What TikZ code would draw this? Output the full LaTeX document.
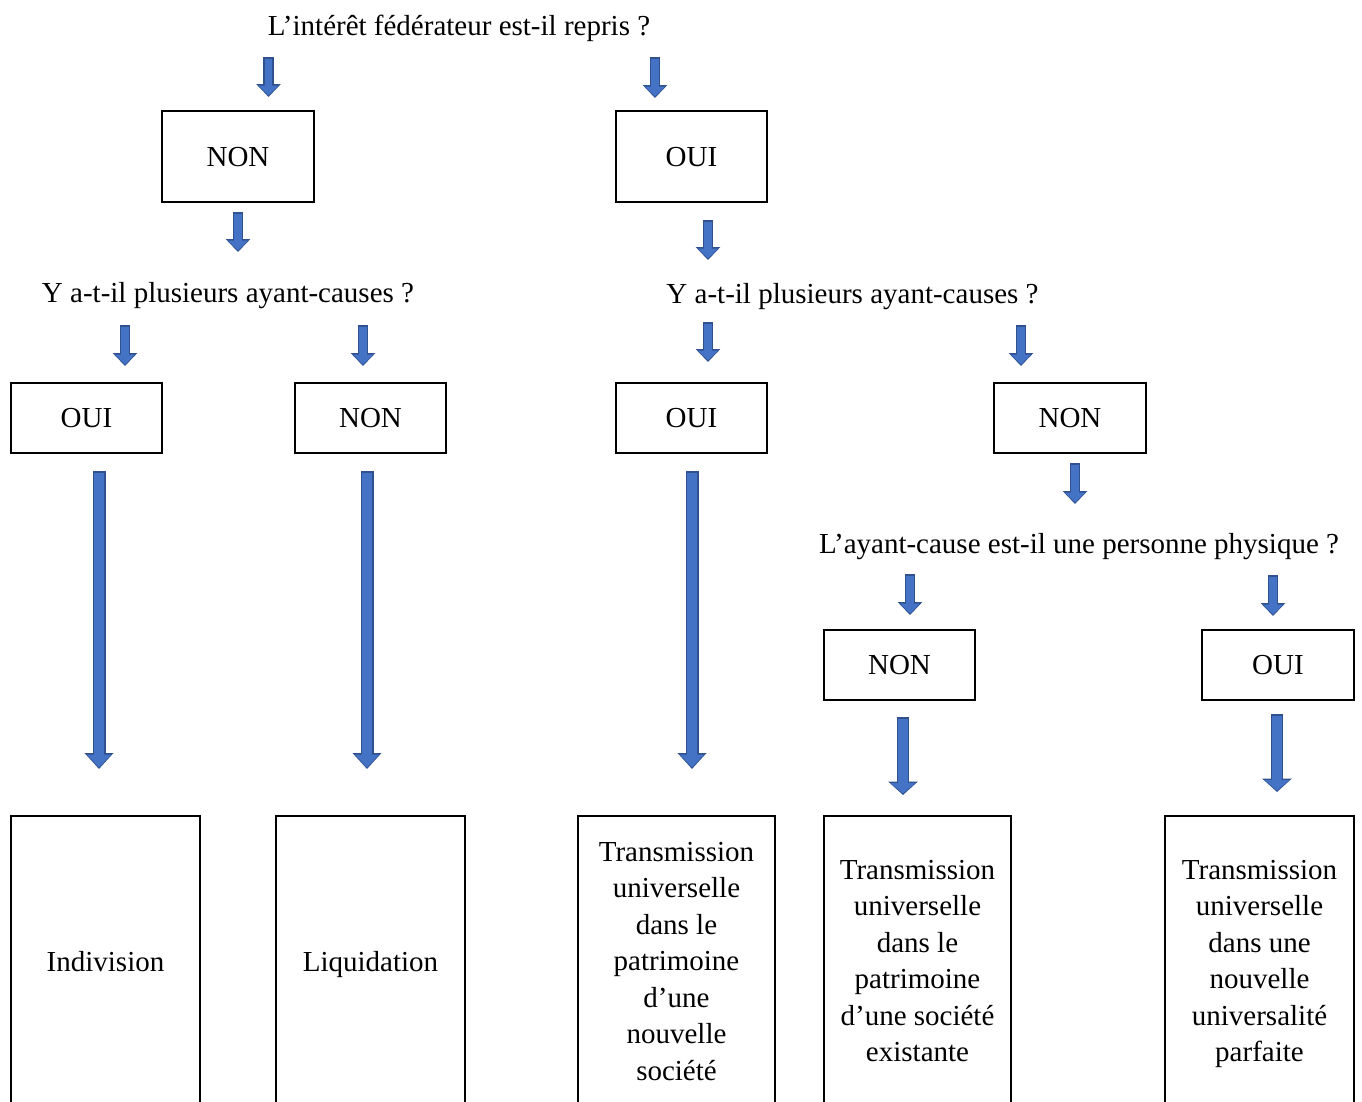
\documentclass[tikz,border=0pt]{standalone}
\usepackage{fontspec}
\setmainfont{Liberation Serif}
\usetikzlibrary{arrows.meta}
\definecolor{bleu}{HTML}{4472C4}
\definecolor{bleufonce}{HTML}{2F528F}
\tikzset{
	boite/.style={draw, line width=1.5pt, align=center, inner sep=0pt, text depth=0pt},
	question/.style={anchor=base, inner sep=0pt},
}
\begin{document}
\begin{tikzpicture}[x=1pt, y=-1pt, font=\fontsize{29}{36.5}\selectfont]
	\useasboundingbox (0,0) rectangle (1362,1101);
	\clip (0,0) rectangle (1362,1101);
	
	% questions
	\node[question] (q1) at (459,35) {L’intérêt fédérateur est-il repris ?};
	\node[question] (q2) at (228,302.5) {Y a-t-il plusieurs ayant-causes ?};
	\node[question] (q3) at (852.5,303.5) {Y a-t-il plusieurs ayant-causes ?};
	\node[question] (q4) at (1079,553.5) {L’ayant-cause est-il une personne physique ?};
	
	% reponses
	\node[boite, minimum width=152, minimum height=91] (non1) at (238,156.5) {NON};
	\node[boite, minimum width=151, minimum height=91] (oui1) at (691.5,156.5) {OUI};
	\node[boite, minimum width=151, minimum height=70] (oui2) at (86.5,418) {OUI};
	\node[boite, minimum width=151, minimum height=70] (non2) at (370.5,418) {NON};
	\node[boite, minimum width=151, minimum height=70] (oui3) at (691.5,418) {OUI};
	\node[boite, minimum width=152, minimum height=70] (non3) at (1070,418) {NON};
	\node[boite, minimum width=151, minimum height=70] (non4) at (899.5,665) {NON};
	\node[boite, minimum width=152, minimum height=70] (oui4) at (1278,665) {OUI};
	
	% resultats
	\node[boite, minimum width=189, minimum height=290] (indiv) at (105.5,961) {Indivision};
	\node[boite, minimum width=189, minimum height=290] (liquid) at (370.5,961) {Liquidation};
	\node[boite, minimum width=197, minimum height=290] (trans1) at (676.5,961)
		{Transmission\\universelle\\dans le\\patrimoine\\d’une\\nouvelle\\société};
	\node[boite, minimum width=187, minimum height=290] (trans2) at (917.5,961)
		{Transmission\\universelle\\dans le\\patrimoine\\d’une société\\existante};
	\node[boite, minimum width=189, minimum height=290] (trans3) at (1259.5,961)
		{Transmission\\universelle\\dans une\\nouvelle\\universalité\\parfaite};
	
	% fleches
	\foreach \n/\x/\ya/\yb/\s/\w/\l in {
		a1/268.5/57/97/10.5/24/13, a2/655/57/98/10.5/24/13,
		a3/238/212/252/10.5/24/13, a4/708/220/260/10.5/24/13,
		a5/125/325/366/10.5/24/13, a6/363/325/366/10.5/24/13,
		a7/708/322/362/10.5/24/13, a8/1021/325/366/10.5/24/13,
		a9/1075/463/504/10.5/24/13, a10/910/574/615/10.5/24/13,
		a11/1273/575/616/10.5/24/13,
		b1/99/471/769/13/28/16, b2/367/471/769/13/28/16,
		b3/692/471/769/13/28/16,
		c1/903/717/795/12.5/29/13.5, c2/1277/714/792/12.5/29/13.5}
	{
		\coordinate (\n s) at (\x,\ya);
		\coordinate (\n e) at (\x,\yb);
		\pgfmathsetmacro\si{\s-3}
		\pgfmathsetmacro\wi{\w-4.5}
		\pgfmathsetmacro\li{\l-3}
		\draw[bleufonce, line width=\s pt, -{Triangle[width=\w pt, length=\l pt]}] (\n s) -- (\n e);
		\draw[bleu, line width=\si pt, shorten <=1.5pt, shorten >=1.5pt,
			-{Triangle[width=\wi pt, length=\li pt]}] (\n s) -- (\n e);
	}
\end{tikzpicture}
\end{document}
